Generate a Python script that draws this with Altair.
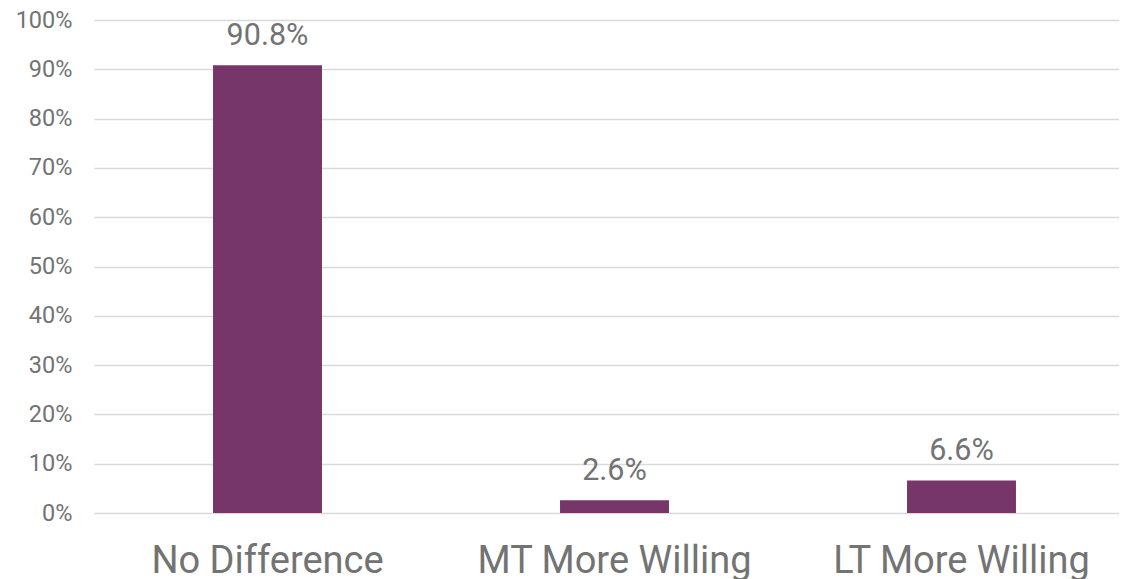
import altair as alt
import pandas as pd

categories = ["No Difference", "MT More Willing", "LT More Willing"]
values = [0.908, 0.026, 0.066]
labels = ["90.8%", "2.6%", "6.6%"]

df = pd.DataFrame({"cat": categories, "val": values, "lab": labels})

xscale = alt.Scale(paddingInner=0.686, paddingOuter=0.343, range=[0, 1041])
x = alt.X("cat:N", sort=categories, title=None, scale=xscale,
          axis=alt.Axis(labelAngle=0, labelFont="Roboto", labelFontSize=38,
                        labelColor="#737373", labelPadding=29, labelLimit=0,
                        ticks=False, domain=False, grid=False))
y = alt.Y("val:Q", title=None,
          scale=alt.Scale(domain=[0, 1], nice=False),
          axis=alt.Axis(format=".0%", values=[i / 10 for i in range(11)],
                        labelFont="Roboto", labelFontSize=23.5, labelColor="#737373",
                        labelPadding=22, ticks=False, domain=False,
                        gridColor="#d9d9d9", gridWidth=1.5))

bars = alt.Chart(df).mark_bar(color="#77366a").encode(x=x, y=y)
text = alt.Chart(df).mark_text(font="Roboto", fontSize=30.5, color="#737373",
                               baseline="alphabetic", dy=-20).encode(
    x=alt.X("cat:N", sort=categories, scale=xscale), y="val:Q", text="lab:N")

chart = (bars + text).properties(
    width=1025, height=493,
    autosize=alt.AutoSizeParams(type="none"),
    padding={"left": 86, "top": 12, "right": 0, "bottom": 70},
).configure_view(stroke=None)

chart.save("out.html", embed_options={"renderer": "svg", "actions": False})
